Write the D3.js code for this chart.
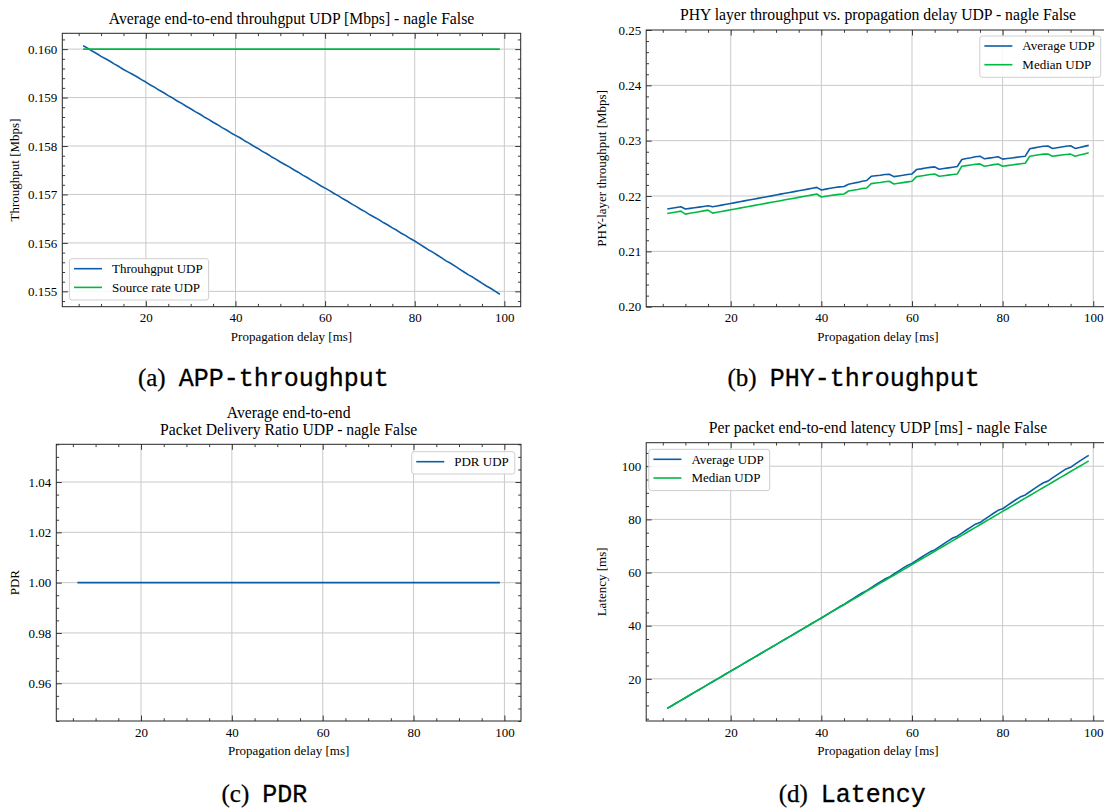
<!DOCTYPE html>
<html><head><meta charset="utf-8">
<script src="https://cdn.jsdelivr.net/npm/d3@7"></script>
<style>body{margin:0;background:#fff} svg{display:block}</style>
</head><body><svg id="c" width="1104" height="812"></svg>
<script>
// ---------------- DATA ----------------
const delays = [6,7,8,9,10,11,12,13,14,15,16,17,18,19,20,21,22,23,24,25,26,27,28,29,30,31,32,33,34,35,36,37,38,39,40,41,42,43,44,45,46,47,48,49,50,51,52,53,54,55,56,57,58,59,60,61,62,63,64,65,66,67,68,69,70,71,72,73,74,75,76,77,78,79,80,81,82,83,84,85,86,87,88,89,90,91,92,93,94,95,96,97,98,99];

const appThroughput = [
0.16007,0.16002,0.15996,0.15991,0.15985,0.15980,0.15975,0.15969,0.15964,0.15958,
0.15953,0.15948,0.15943,0.15937,0.15932,0.15926,0.15921,0.15915,0.15910,0.15904,
0.15899,0.15893,0.15888,0.15882,0.15877,0.15871,0.15866,0.15860,0.15855,0.15849,
0.15844,0.15838,0.15833,0.15827,0.15822,0.15817,0.15811,0.15806,0.15800,0.15795,
0.15789,0.15784,0.15778,0.15773,0.15767,0.15762,0.15757,0.15751,0.15746,0.15740,
0.15735,0.15729,0.15724,0.15718,0.15713,0.15708,0.15702,0.15697,0.15691,0.15686,
0.15680,0.15675,0.15669,0.15664,0.15658,0.15653,0.15648,0.15642,0.15637,0.15631,
0.15626,0.15620,0.15615,0.15609,0.15604,0.15598,0.15592,0.15586,0.15581,0.15575,
0.15569,0.15563,0.15558,0.15552,0.15546,0.15540,0.15534,0.15529,0.15523,0.15517,
0.15511,0.15506,0.15500,0.15494];

const sourceRate = [
0.16,0.16,0.16,0.16,0.16,0.16,0.16,0.16,0.16,0.16,0.16,0.16,0.16,0.16,0.16,0.16,0.16,0.16,0.16,0.16,
0.16,0.16,0.16,0.16,0.16,0.16,0.16,0.16,0.16,0.16,0.16,0.16,0.16,0.16,0.16,0.16,0.16,0.16,0.16,0.16,
0.16,0.16,0.16,0.16,0.16,0.16,0.16,0.16,0.16,0.16,0.16,0.16,0.16,0.16,0.16,0.16,0.16,0.16,0.16,0.16,
0.16,0.16,0.16,0.16,0.16,0.16,0.16,0.16,0.16,0.16,0.16,0.16,0.16,0.16,0.16,0.16,0.16,0.16,0.16,0.16,
0.16,0.16,0.16,0.16,0.16,0.16,0.16,0.16,0.16,0.16,0.16,0.16,0.16,0.16];

const phyAvg = [
0.21764,0.21778,0.21792,0.21805,0.21764,0.21776,0.21788,0.21800,0.21812,0.21824,
0.21805,0.21820,0.21836,0.21851,0.21866,0.21881,0.21897,0.21912,0.21927,0.21942,
0.21958,0.21973,0.21988,0.22003,0.22019,0.22034,0.22049,0.22064,0.22080,0.22095,
0.22110,0.22125,0.22141,0.22156,0.22110,0.22125,0.22140,0.22155,0.22165,0.22172,
0.22213,0.22230,0.22246,0.22268,0.22280,0.22356,0.22365,0.22375,0.22390,0.22393,
0.22350,0.22362,0.22375,0.22390,0.22399,0.22478,0.22490,0.22505,0.22518,0.22527,
0.22484,0.22496,0.22508,0.22520,0.22533,0.22660,0.22678,0.22693,0.22710,0.22720,
0.22672,0.22685,0.22697,0.22709,0.22666,0.22677,0.22688,0.22698,0.22709,0.22720,
0.22854,0.22870,0.22885,0.22898,0.22903,0.22860,0.22872,0.22885,0.22898,0.22909,
0.22860,0.22878,0.22897,0.22915];

const phyMedian = [
0.21684,0.21698,0.21712,0.21727,0.21673,0.21688,0.21703,0.21717,0.21731,0.21745,
0.21691,0.21706,0.21721,0.21736,0.21751,0.21766,0.21781,0.21796,0.21811,0.21826,
0.21841,0.21856,0.21871,0.21886,0.21901,0.21916,0.21931,0.21946,0.21961,0.21976,
0.21991,0.22006,0.22021,0.22036,0.21982,0.21995,0.22008,0.22020,0.22030,0.22036,
0.22090,0.22105,0.22118,0.22135,0.22145,0.22224,0.22235,0.22245,0.22258,0.22266,
0.22218,0.22230,0.22242,0.22255,0.22266,0.22350,0.22363,0.22376,0.22390,0.22399,
0.22356,0.22366,0.22377,0.22388,0.22399,0.22539,0.22550,0.22562,0.22575,0.22580,
0.22539,0.22553,0.22567,0.22580,0.22539,0.22550,0.22561,0.22572,0.22583,0.22593,
0.22720,0.22732,0.22745,0.22757,0.22760,0.22720,0.22730,0.22740,0.22750,0.22757,
0.22720,0.22740,0.22760,0.22781];

const pdr = [
1,1,1,1,1,1,1,1,1,1,1,1,1,1,1,1,1,1,1,1,1,1,1,1,1,1,1,1,1,1,1,1,1,1,1,1,1,1,1,1,1,1,1,1,1,1,1,
1,1,1,1,1,1,1,1,1,1,1,1,1,1,1,1,1,1,1,1,1,1,1,1,1,1,1,1,1,1,1,1,1,1,1,1,1,1,1,1,1,1,1,1,1,1,1];

const latMedian = [
8.9,9.9,10.9,11.9,12.9,13.9,14.9,15.9,16.9,17.9,
18.9,19.9,20.9,21.9,22.9,23.9,24.9,25.9,26.9,27.9,
28.9,29.9,30.9,31.9,32.9,33.9,34.9,35.9,36.9,37.9,
38.9,39.9,40.9,41.9,42.9,43.9,44.9,45.9,46.9,47.9,
48.9,49.9,50.9,51.9,53.0,54.0,55.0,56.0,57.0,58.0,
59.0,60.0,61.0,62.0,63.0,64.0,65.0,66.0,67.0,68.0,
69.0,70.0,71.0,72.0,73.0,74.0,75.0,76.0,77.0,78.0,
79.0,80.0,81.0,82.0,83.0,84.0,85.0,86.0,87.0,88.0,
89.0,90.0,91.0,92.0,93.0,94.0,95.0,96.0,97.0,98.0,
99.0,100.0,101.0,102.0];

const latAvg = [
8.9,9.9,10.9,11.9,12.9,13.9,14.9,15.9,16.9,17.9,
18.9,19.9,20.9,21.9,22.9,23.9,24.9,25.9,26.9,27.9,
28.9,29.9,30.9,31.9,32.9,33.9,34.9,35.9,36.9,37.9,
38.9,39.9,40.9,41.9,42.9,43.95,45.0,46.05,47.1,48.0,
49.1,50.2,51.25,52.3,53.2,54.3,55.4,56.5,57.55,58.3,
59.45,60.55,61.65,62.7,63.4,64.55,65.65,66.75,67.8,68.5,
69.65,70.8,71.9,73.0,73.7,74.85,76.0,77.1,78.2,78.8,
80.0,81.15,82.3,83.4,84.0,85.2,86.35,87.5,88.55,89.2,
90.4,91.55,92.7,93.8,94.4,95.6,96.75,97.9,99.0,99.6,
100.8,101.95,103.05,104.1];

const xTicks = [20,40,60,80,100];
const yTicksApp = [0.155,0.156,0.157,0.158,0.159,0.160];
const yTicksPhy = [0.20,0.21,0.22,0.23,0.24,0.25];
const yTicksPdr = [0.96,0.98,1.00,1.02,1.04];
const yTicksLat = [20,40,60,80,100];

const titles = [
  ["Average end-to-end throuhgput UDP [Mbps] - nagle False"],
  ["PHY layer throughput vs. propagation delay UDP - nagle False"],
  ["Average end-to-end","Packet Delivery Ratio UDP - nagle False"],
  ["Per packet end-to-end latency UDP [ms] - nagle False"]];
const yLabels = ["Throughput [Mbps]","PHY-layer throughput [Mbps]","PDR","Latency [ms]"];
const xLabel = "Propagation delay [ms]";
const captionLetters = ["(a)","(b)","(c)","(d)"];
const captionNames = ["APP-throughput","PHY-throughput","PDR","Latency"];

// ---------------- DRAW ----------------
const svg = d3.select('#c');
svg.append('rect').attr('width',1104).attr('height',812).attr('fill','#fff');
const SERIF = "'Liberation Serif','Times New Roman',Times,serif";
const BLUE = '#0C5DA5', GREEN = '#00B945';
const FRAME = '#262626';

function padDomain(arrs){
  const all = arrs.flat(); const lo = d3.min(all), hi = d3.max(all);
  const m = (hi-lo)*0.05; return [lo-m, hi+m];
}
function minorTicks(domain, step, majors){
  const s = Math.ceil(domain[0]/step-1e-9), e = Math.floor(domain[1]/step+1e-9);
  const out = [];
  for (let k=s;k<=e;k++){ const v = k*step; if (!majors.some(m=>Math.abs(m-v)<step*1e-3)) out.push(v); }
  return out;
}

function drawPanel(p){
  const g = svg.append('g');
  const x = d3.scaleLinear().domain(p.xDomain).range([p.L,p.R]);
  const y = d3.scaleLinear().domain(p.yDomain).range([p.B,p.T]);
  const grid = g.append('g').attr('stroke','#c9c9c9').attr('stroke-width',1);
  grid.selectAll('line.gx').data(xTicks.filter(d=>x(d)>p.L && x(d)<p.R)).join('line')
    .attr('x1',d=>x(d)).attr('x2',d=>x(d)).attr('y1',p.T).attr('y2',p.B);
  grid.selectAll('line.gy').data(p.yTicks.filter(d=>y(d)>p.T+0.5 && y(d)<p.B-0.5)).join('line')
    .attr('x1',p.L).attr('x2',p.R).attr('y1',d=>y(d)).attr('y2',d=>y(d));

  const line = d3.line().x((d,i)=>x(delays[i])).y(d=>y(d));
  p.series.forEach(s=>{
    g.append('path').attr('d',line(s.values)).attr('fill','none')
      .attr('stroke',s.color).attr('stroke-width',1.6).attr('stroke-linejoin','round');
  });

  const xMinor = minorTicks(p.xDomain, 5, xTicks);
  const yMinor = minorTicks(p.yDomain, p.yMinorStep, p.yTicks);
  function ax(gen, tx, ty, vals, size, fmt, pad){
    const a = gen.tickValues(vals).tickSizeInner(size).tickSizeOuter(0).tickPadding(pad||0)
      .tickFormat(fmt || (()=>''));
    const sel = g.append('g').attr('transform',`translate(${tx},${ty})`).call(a);
    sel.select('.domain').remove();
    sel.attr('font-family',SERIF).attr('font-size',13).attr('color',FRAME);
    sel.selectAll('line').attr('stroke-width',0.9);
    sel.selectAll('text').attr('fill','#000');
    return sel;
  }
  ax(d3.axisBottom(x),0,p.B,xTicks,-5.5,d3.format('d'),6.4);
  ax(d3.axisBottom(x),0,p.B,xMinor,-2.8);
  ax(d3.axisTop(x),0,p.T,xTicks,-5.5);
  ax(d3.axisTop(x),0,p.T,xMinor,-2.8);
  ax(d3.axisLeft(y),p.L,0,p.yTicks,-5.5,d3.format(p.yFmt),5);
  ax(d3.axisLeft(y),p.L,0,yMinor,-2.8);
  ax(d3.axisRight(y),p.R,0,p.yTicks,-5.5);
  ax(d3.axisRight(y),p.R,0,yMinor,-2.8);

  g.append('rect').attr('x',p.L).attr('y',p.T).attr('width',p.R-p.L).attr('height',p.B-p.T)
    .attr('fill','none').attr('stroke',FRAME).attr('stroke-width',1);

  // title
  const cx = (p.L+p.R)/2;
  const tl = p.title;
  tl.forEach((t,i)=>{
    g.append('text').attr('x',cx).attr('y',p.T-9.8-(tl.length-1-i)*16.6)
      .attr('text-anchor','middle').attr('font-family',SERIF).attr('font-size',15.7).text(t);
  });
  // axis labels
  g.append('text').attr('x',cx).attr('y',p.B+34).attr('text-anchor','middle')
    .attr('font-family',SERIF).attr('font-size',13).text(xLabel);
  g.append('text').attr('transform',`translate(${p.yLabelX},${(p.T+p.B)/2}) rotate(-90)`)
    .attr('text-anchor','middle').attr('font-family',SERIF).attr('font-size',13).text(p.yLabel);

  // legend
  const lg = g.append('g');
  const rows = p.series.map((s,i)=>{
    const cy = i===0 ? 10 : 28.7;
    const t = lg.append('text').attr('font-family',SERIF).attr('font-size',13).text(s.name);
    return {s, cy, t};
  });
  const tw = d3.max(rows, r=>r.t.node().getComputedTextLength());
  const w = 42.6 + tw + 6;
  const h = rows.length===1 ? 22.3 : 41.3;
  const bx = p.legend.left!=null ? p.legend.left : p.legend.right - w;
  const by = p.legend.top!=null ? p.legend.top : p.legend.bottom - h;
  lg.insert('rect',':first-child').attr('x',bx).attr('y',by).attr('width',w).attr('height',h)
    .attr('rx',2.6).attr('fill','#fff').attr('fill-opacity',0.85).attr('stroke','#cfcfcf').attr('stroke-width',1);
  rows.forEach(r=>{
    lg.append('line').attr('x1',bx+4.6).attr('x2',bx+32.6).attr('y1',by+r.cy).attr('y2',by+r.cy)
      .attr('stroke',r.s.color).attr('stroke-width',1.6);
    r.t.attr('x',bx+42.6).attr('y',by+r.cy+4.4);
  });
}

const xDom = padDomain([delays]);
drawPanel({L:62.3,R:520.7,T:33.3,B:306.7,xDomain:xDom,
  yDomain:padDomain([appThroughput,sourceRate]),yTicks:yTicksApp,yMinorStep:0.0002,yFmt:'.3f',
  series:[{name:'Throuhgput UDP',values:appThroughput,color:BLUE},{name:'Source rate UDP',values:sourceRate,color:GREEN}],
  title:titles[0],yLabel:yLabels[0],yLabelX:18.5,legend:{left:69.4,bottom:300}});
drawPanel({L:646.2,R:1109.8,T:30,B:306.7,xDomain:xDom,
  yDomain:[0.20,0.25],yTicks:yTicksPhy,yMinorStep:0.002,yFmt:'.2f',
  series:[{name:'Average UDP',values:phyAvg,color:BLUE},{name:'Median UDP',values:phyMedian,color:GREEN}],
  title:titles[1],yLabel:yLabels[1],yLabelX:606,legend:{right:1100.7,top:36}});
drawPanel({L:56.3,R:521,T:444.3,B:721,xDomain:xDom,
  yDomain:[0.945,1.055],yTicks:yTicksPdr,yMinorStep:0.005,yFmt:'.2f',
  series:[{name:'PDR UDP',values:pdr,color:BLUE}],
  title:titles[2],yLabel:yLabels[2],yLabelX:18.5,legend:{right:514.8,top:451.7}});
drawPanel({L:646.2,R:1109.8,T:442.7,B:721,xDomain:xDom,
  yDomain:padDomain([latAvg,latMedian]),yTicks:yTicksLat,yMinorStep:5,yFmt:'d',
  series:[{name:'Average UDP',values:latAvg,color:BLUE},{name:'Median UDP',values:latMedian,color:GREEN}],
  title:titles[3],yLabel:yLabels[3],yLabelX:606,legend:{left:648.8,top:449.3}});

// captions
const capPos = [[263.3,386.3],[853.6,386.3],[264.4,801.7],[852.3,801.7]];
capPos.forEach((c,i)=>{
  const t = svg.append('text').attr('x',c[0]).attr('y',c[1]).attr('text-anchor','middle').attr('fill','#000');
  t.append('tspan').attr('font-family',"'Liberation Serif','DejaVu Serif',serif").attr('font-size',25)
    .attr('stroke','#000').attr('stroke-width',0.25).text(captionLetters[i]);
  t.append('tspan').attr('dx',13).attr('font-family',"'Liberation Mono','DejaVu Sans Mono',monospace").attr('font-size',25)
    .attr('stroke','#000').attr('stroke-width',0.3).text(captionNames[i]);
});
</script>
</body></html>
